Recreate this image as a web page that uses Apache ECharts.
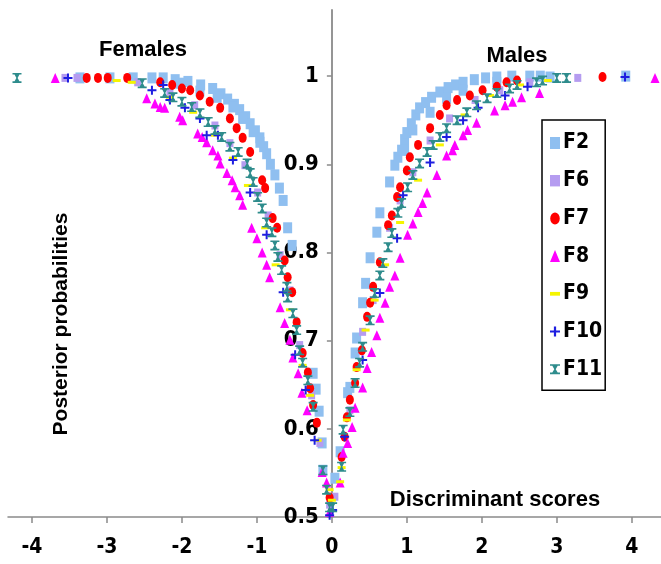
<!DOCTYPE html>
<html>
<head>
<meta charset="utf-8">
<script src="https://cdn.jsdelivr.net/npm/echarts@6/dist/echarts.min.js"></script>
<style>
html,body{margin:0;padding:0;background:#fff;}
#chart{width:661px;height:564px;}
</style>
</head>
<body>
<div id="chart"></div>
<script>
// ---- data (discriminant score, posterior probability) ----
const seriesNames = ['F2','F6','F7','F8','F9','F10','F11'];
const xTicks = [-4,-3,-2,-1,0,1,2,3,4];
const yTicks = [0.5,0.6,0.7,0.8,0.9,1];

const F2 = [
 [-3.36,0.998],[-2.96,0.998],[-2.65,0.998],[-2.40,0.998],[-2.25,0.998],[-2.09,0.996],[-1.92,0.994],
 [-1.75,0.990],[-1.59,0.986],[-1.48,0.980],[-1.39,0.974],[-1.30,0.968],[-1.23,0.962],[-1.15,0.954],
 [-1.09,0.946],[-1.02,0.938],[-0.96,0.930],[-0.91,0.920],[-0.87,0.912],[-0.82,0.900],[-0.76,0.888],
 [-0.70,0.873],[-0.65,0.859],[-0.59,0.828],[-0.53,0.808],[-0.25,0.663],[-0.21,0.645],[-0.17,0.620],
 [-0.13,0.584],[-0.12,0.553],
 [-2.03,0.992],[-1.76,0.983],[-1.53,0.976],[-1.32,0.965],[-1.19,0.952],[-1.05,0.937],[-0.96,0.925],
 [0.04,0.544],[0.11,0.574],[0.21,0.641],[0.24,0.647],[0.31,0.686],[0.33,0.703],[0.41,0.743],
 [0.45,0.765],[0.51,0.794],[0.60,0.823],[0.64,0.845],[0.77,0.880],[0.84,0.899],[0.88,0.908],
 [0.93,0.916],[0.97,0.928],[1.00,0.936],[1.06,0.946],[1.12,0.956],[1.17,0.964],[1.25,0.970],
 [1.33,0.976],[1.44,0.982],[1.55,0.987],[1.65,0.990],[1.75,0.993],[1.90,0.996],[2.05,0.998],
 [2.20,0.999],[2.40,1.0],[2.64,1.0],[2.78,1.0],[2.91,0.999],[3.92,1.0],
 [0.97,0.916],[1.08,0.939],[1.31,0.959],[1.53,0.975],[1.75,0.984],[2.20,0.993]
];
const F6 = [
 [-3.56,0.998],[-3.40,0.998],[-2.59,0.993],[-2.16,0.982],[-1.83,0.967],[-1.56,0.944],[-1.36,0.924],
 [-1.16,0.899],[-0.99,0.868],[-0.85,0.842],[-0.69,0.797],[-0.56,0.757],[-0.43,0.695],[-0.27,0.638],
 [-0.16,0.584],[-0.03,0.514],
 [0.04,0.523],[0.24,0.621],[0.41,0.710],[0.55,0.746],[0.77,0.828],[0.91,0.859],[1.08,0.891],
 [1.31,0.927],[1.57,0.952],[1.91,0.973],[2.24,0.984],[2.64,0.993],[3.28,0.998]
];
const F7 = [
 [-3.27,0.998],[-3.12,0.998],[-2.99,0.998],[-2.73,0.998],[-2.29,0.993],[-2.13,0.990],[-2.00,0.986],
 [-1.89,0.984],[-1.76,0.978],[-1.63,0.971],[-1.49,0.964],[-1.36,0.952],[-1.27,0.941],[-1.19,0.930],
 [-1.09,0.914],[-0.93,0.882],[-0.89,0.873],[-0.79,0.839],[-0.73,0.828],[-0.63,0.791],[-0.59,0.772],
 [-0.53,0.755],[-0.47,0.721],[-0.39,0.686],[-0.32,0.664],[-0.29,0.646],[-0.25,0.627],[-0.20,0.607],
 [-0.03,0.522],
 [0.13,0.568],[0.17,0.591],[0.20,0.613],[0.24,0.633],[0.31,0.652],[0.33,0.670],[0.40,0.689],
 [0.47,0.727],[0.51,0.743],[0.55,0.761],[0.64,0.789],[0.75,0.831],[0.80,0.842],[0.87,0.863],
 [0.91,0.874],[1.00,0.893],[1.04,0.908],[1.15,0.922],[1.31,0.941],[1.44,0.956],[1.53,0.967],
 [1.67,0.973],[1.84,0.978],[2.01,0.984],[2.20,0.988],[2.33,0.993],[2.47,0.995],[3.61,0.999]
];
const F8 = [
 [-3.69,0.998],[-2.47,0.975],[-2.36,0.969],[-2.29,0.965],[-2.23,0.964],[-2.03,0.954],[-1.99,0.950],
 [-1.79,0.935],[-1.73,0.931],[-1.67,0.925],[-1.59,0.916],[-1.52,0.910],[-1.49,0.901],[-1.40,0.890],
 [-1.33,0.882],[-1.29,0.874],[-1.23,0.865],[-1.19,0.854],[-1.07,0.828],[-1.00,0.816],[-0.93,0.800],
 [-0.87,0.786],[-0.83,0.772],[-0.69,0.738],[-0.63,0.720],[-0.56,0.701],[-0.52,0.681],[-0.45,0.663],
 [-0.40,0.641],[-0.33,0.621],[-0.13,0.551],[-0.07,0.539],[-0.03,0.506],
 [0.11,0.539],[0.15,0.573],[0.21,0.584],[0.27,0.602],[0.31,0.624],[0.41,0.647],[0.47,0.669],
 [0.53,0.687],[0.60,0.706],[0.64,0.726],[0.71,0.743],[0.77,0.761],[0.84,0.774],[0.91,0.794],
 [1.01,0.820],[1.08,0.833],[1.15,0.846],[1.21,0.856],[1.27,0.868],[1.40,0.888],[1.53,0.910],
 [1.61,0.916],[1.64,0.922],[1.75,0.933],[1.81,0.939],[1.93,0.947],[2.17,0.961],[2.31,0.967],
 [2.41,0.971],[2.53,0.976],[2.77,0.981],[4.31,0.998]
];
const F9 = [
 [-2.87,0.995],[-2.67,0.993],[-2.16,0.976],[-1.85,0.959],[-1.56,0.933],[-1.32,0.907],[-1.12,0.876],
 [-0.89,0.828],[-0.75,0.786],[-0.56,0.735],[-0.39,0.672],[-0.29,0.638],[-0.19,0.587],[-0.03,0.531],
 [0.00,0.519],[0.11,0.540],[0.13,0.556],[0.20,0.610],[0.33,0.667],[0.45,0.712],[0.57,0.746],
 [0.71,0.786],[0.91,0.834],[1.15,0.882],[1.44,0.922],[1.77,0.956],[2.11,0.978],[2.51,0.990],[2.88,0.995]
];
const F10 = [
 [-3.52,0.998],[-2.40,0.984],[-2.25,0.990],[-2.16,0.973],[-1.96,0.964],[-1.76,0.952],[-1.67,0.933],
 [-1.52,0.933],[-1.32,0.905],[-1.09,0.868],[-0.87,0.820],[-0.65,0.755],[-0.49,0.684],[-0.35,0.644],
 [-0.23,0.587],[-0.03,0.502],
 [0.01,0.508],[0.17,0.591],[0.41,0.678],[0.64,0.754],[0.87,0.816],[0.95,0.865],[1.31,0.902],
 [1.53,0.931],[1.75,0.950],[1.95,0.964],[2.31,0.978],[2.61,0.988],[3.91,0.999]
];
const F11 = [
 [-4.20,0.998],[-2.53,0.992],[-2.23,0.981],[-2.12,0.976],[-2.00,0.971],[-1.87,0.965],[-1.76,0.958],
 [-1.65,0.948],[-1.56,0.939],[-1.47,0.931],[-1.36,0.920],[-1.25,0.914],[-1.13,0.901],[-1.09,0.890],
 [-1.05,0.880],[-0.99,0.863],[-0.93,0.850],[-0.87,0.834],[-0.80,0.823],[-0.76,0.808],[-0.72,0.795],
 [-0.67,0.780],[-0.60,0.761],[-0.59,0.749],[-0.52,0.731],[-0.47,0.712],[-0.43,0.689],[-0.39,0.675],
 [-0.32,0.655],[-0.25,0.625],[-0.12,0.553],[-0.07,0.531],[-0.03,0.511],
 [0.01,0.511],[0.13,0.557],[0.15,0.599],[0.24,0.619],[0.31,0.652],[0.37,0.675],[0.41,0.693],
 [0.51,0.723],[0.57,0.754],[0.64,0.774],[0.68,0.788],[0.75,0.806],[0.80,0.822],[0.88,0.845],
 [0.93,0.856],[1.01,0.874],[1.08,0.888],[1.17,0.901],[1.27,0.914],[1.35,0.922],[1.44,0.931],
 [1.53,0.941],[1.67,0.950],[1.80,0.959],[1.93,0.967],[2.07,0.975],[2.20,0.981],[2.37,0.986],
 [2.47,0.990],[2.73,0.993],[2.81,0.995],[3.00,0.998],[3.13,0.998]
];

const seriesData = [F2, F6, F7, F8, F9, F10, F11];
const colors = ['#8fbff0', '#b59cf0', '#ff0000', '#ff00ff', '#f5f500', '#1e1ee0', '#2e8c8c'];

// ---- styles ----
const narrow = "'Liberation Sans Narrow','DejaVu Sans Condensed','Liberation Sans',Arial,sans-serif";
const sans = "'Liberation Sans',Arial,sans-serif";
const PLUS = 'path://M3.5,0h2v3.5h3.5v2h-3.5v3.5h-2v-3.5h-3.5v-2h3.5z';
const HOURGLASS = 'path://M0,0h10v1.6h-2.3l-2,3.4l2,3.4h2.3v1.6h-10v-1.6h2.3l2,-3.4l-2,-3.4h-2.3z';
const DASH = 'path://M0,0h8v3h-8z';
const symbols = ['rect', 'rect', 'circle', 'triangle', 'rect', PLUS, HOURGLASS];
const sizes = [[9,11],[7,8],[8,10],[9,10],[8,3],[9,9],[9,10]];
const legendIcons = ['rect', 'path://M0,0h7v8h-7z', 'path://M4,0a4,5 0 1,0 0.01,0z', 'triangle', DASH, PLUS, HOURGLASS];

const chart = echarts.init(document.getElementById('chart'), null, {renderer: 'canvas'});
const axisColor = '#8a8a8a';
const GRID_LEFT = 8, GRID_RIGHT = 0;
const X_MIN = -4.32, X_MAX = 4.39;
const plotW = 661 - GRID_LEFT - GRID_RIGHT;
// place the value axis at score 0 (inside the grid)
const yOffset = -(0 - X_MIN) / (X_MAX - X_MIN) * plotW;

chart.setOption({
  animation: false,
  backgroundColor: '#ffffff',
  grid: {left: GRID_LEFT, right: GRID_RIGHT, top: 10, bottom: 47, containLabel: false, outerBoundsMode: 'none'},
  xAxis: {
    type: 'value', min: X_MIN, max: X_MAX,
    splitLine: {show: false},
    axisLine: {onZero: false, lineStyle: {color: axisColor, width: 1.5}},
    axisTick: {show: true, length: 6, customValues: xTicks, lineStyle: {color: axisColor, width: 1.5}},
    axisLabel: {customValues: xTicks, margin: 20, color: '#000', fontFamily: narrow, fontWeight: 'bold', fontSize: 21}
  },
  yAxis: {
    type: 'value', min: 0.5, max: 1.075, position: 'left', offset: yOffset,
    splitLine: {show: false},
    axisLine: {onZero: false, lineStyle: {color: axisColor, width: 1.8}},
    axisTick: {show: true, length: 5, customValues: yTicks, lineStyle: {color: axisColor, width: 1.5}},
    axisLabel: {customValues: yTicks, margin: 13, color: '#000', fontFamily: narrow, fontWeight: 'bold', fontSize: 22,
      formatter: v => String(Math.round(v * 10) / 10)}
  },
  legend: {
    orient: 'vertical', left: 542, top: 120,
    padding: [12, 3, 10, 8],
    itemWidth: 10, itemHeight: 12, itemGap: 15.7,
    backgroundColor: '#fff', borderColor: '#000', borderWidth: 1.5, borderRadius: 0,
    textStyle: {fontFamily: narrow, fontWeight: 'bold', fontSize: 21, color: '#000', lineHeight: 22, padding: [0,0,0,-2]},
    data: seriesNames.map((n, i) => ({name: n, icon: legendIcons[i]}))
  },
  graphic: [
    {type: 'text', x: 143, y: 50, style: {text: 'Females', font: 'bold 22px ' + sans, fill: '#000', align: 'center', verticalAlign: 'middle'}},
    {type: 'text', x: 517, y: 56, style: {text: 'Males', font: 'bold 22px ' + sans, fill: '#000', align: 'center', verticalAlign: 'middle'}},
    {type: 'text', x: 61, y: 324, rotation: Math.PI / 2, style: {text: 'Posterior probabilities', font: 'bold 21px ' + sans, fill: '#000', align: 'center', verticalAlign: 'middle'}},
    {type: 'text', x: 495, y: 500, style: {text: 'Discriminant scores', font: 'bold 22px ' + sans, fill: '#000', align: 'center', verticalAlign: 'middle'}}
  ],
  series: seriesNames.map((n, i) => ({
    name: n, type: 'scatter',
    symbol: symbols[i], symbolSize: sizes[i],
    itemStyle: {color: colors[i], opacity: 1},
    emphasis: {disabled: true},
    data: seriesData[i]
  }))
});
</script>
</body>
</html>
